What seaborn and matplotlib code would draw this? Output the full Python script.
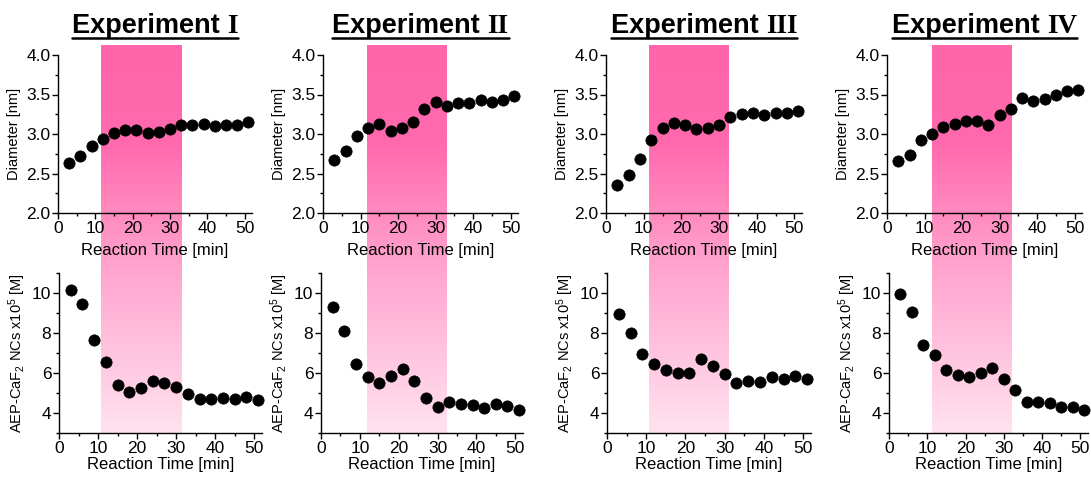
import numpy as np
import matplotlib
matplotlib.use("Agg")
import matplotlib.pyplot as plt
from matplotlib.colors import LinearSegmentedColormap
from matplotlib.ticker import MultipleLocator, FormatStrFormatter
from matplotlib.lines import Line2D
import seaborn as sns

# reaction time sampling points [min]
time_min = [3, 6, 9, 12, 15, 18, 21, 24, 27, 30, 33, 36, 39, 42, 45, 48, 51]

titles = ["Experiment ", "Experiment ", "Experiment ", "Experiment "]
numerals = ["I", "II", "III", "IV"]

# diameter [nm]
diam_1 = [2.63, 2.72, 2.85, 2.94, 3.01, 3.05, 3.05, 3.01, 3.02, 3.06, 3.12, 3.12, 3.13, 3.10, 3.11, 3.12, 3.15]
diam_2 = [2.67, 2.78, 2.97, 3.07, 3.13, 3.04, 3.07, 3.15, 3.32, 3.41, 3.36, 3.39, 3.39, 3.43, 3.41, 3.43, 3.48]
diam_3 = [2.36, 2.48, 2.68, 2.92, 3.07, 3.14, 3.12, 3.06, 3.07, 3.12, 3.22, 3.25, 3.26, 3.24, 3.27, 3.27, 3.29]
diam_4 = [2.66, 2.74, 2.92, 3.00, 3.09, 3.13, 3.17, 3.16, 3.11, 3.24, 3.32, 3.45, 3.42, 3.44, 3.50, 3.54, 3.56]

# nanocrystal concentration x10^5 [M]
conc_1 = [10.16, 9.44, 7.66, 6.56, 5.38, 5.07, 5.27, 5.58, 5.50, 5.30, 4.97, 4.69, 4.69, 4.77, 4.72, 4.79, 4.67]
conc_2 = [9.31, 8.08, 6.45, 5.81, 5.51, 5.84, 6.20, 5.58, 4.76, 4.31, 4.53, 4.46, 4.39, 4.26, 4.43, 4.33, 4.15]
conc_3 = [8.96, 8.01, 6.96, 6.46, 6.17, 6.02, 6.02, 6.71, 6.33, 5.97, 5.48, 5.58, 5.54, 5.81, 5.72, 5.84, 5.69]
conc_4 = [9.93, 9.06, 7.40, 6.90, 6.15, 5.89, 5.80, 5.98, 6.25, 5.68, 5.14, 4.56, 4.54, 4.49, 4.29, 4.29, 4.17]

# highlighted reaction window (in top-panel time units)
band_start = [11.5, 11.6, 11.5, 12.1]
band_end = [33.2, 32.8, 32.5, 33.4]

diameters = [diam_1, diam_2, diam_3, diam_4]
concentrations = [conc_1, conc_2, conc_3, conc_4]

sns.set_style("ticks")
plt.rcParams["font.family"] = ["Liberation Sans", "DejaVu Sans"]
plt.rcParams["mathtext.default"] = "regular"
plt.rcParams["text.color"] = "black"
plt.rcParams["axes.labelcolor"] = "black"
plt.rcParams["xtick.direction"] = "out"
plt.rcParams["ytick.direction"] = "out"

W, H = 1091, 479
fig = plt.figure(figsize=(W / 100, H / 100), dpi=100)

def px_axes(x0, x1, ytop, ybot):
    return fig.add_axes([x0 / W, 1 - ybot / H, (x1 - x0) / W, (ybot - ytop) / H])

top_left = [58, 323, 606, 887]
top_right = [252, 518, 802, 1082]
bot_left = [59, 321, 607, 889]
bot_right = [262, 523, 811, 1088]

bg = fig.add_axes([0, 0, 1, 1], zorder=-5)
bg.axis("off")

pink = LinearSegmentedColormap.from_list(
    "band",
    [(0.0, "#ff66aa"), (0.25, "#ff69ad"), (0.44, "#ff8cc0"),
     (0.56, "#ffa2cd"), (1.0, "#ffe2ef")])
grad = np.linspace(0, 1, 256).reshape(-1, 1)

def style(ax):
    sns.despine(ax=ax)
    ax.set_facecolor("none")
    for s in ["left", "bottom"]:
        ax.spines[s].set_color("black")
        ax.spines[s].set_linewidth(1.0)
    ax.tick_params(which="major", length=4, width=1, colors="black", labelsize=12.5, pad=1.5)
    ax.tick_params(which="minor", length=2.5, width=1, colors="black")
    ax.set_xlim(0, 52)
    ax.xaxis.set_major_locator(MultipleLocator(10))
    ax.xaxis.set_minor_locator(MultipleLocator(5))

renderer = fig.canvas.get_renderer()

for i in range(4):
    ax_t = px_axes(top_left[i], top_right[i], 55, 213)
    ax_b = px_axes(bot_left[i], bot_right[i], 273, 433)

    sns.scatterplot(x=time_min, y=diameters[i], color="black", s=66,
                    edgecolor="black", linewidth=0.5, ax=ax_t, zorder=3, clip_on=False)
    ax_t.set_ylim(2.0, 4.0)
    ax_t.yaxis.set_major_locator(MultipleLocator(0.5))
    ax_t.yaxis.set_minor_locator(MultipleLocator(0.25))
    ax_t.yaxis.set_major_formatter(FormatStrFormatter("%.1f"))
    ax_t.set_xlabel("Reaction Time [min]", fontsize=12, labelpad=5)
    ax_t.set_ylabel("Diameter [nm]", fontsize=10.5, labelpad=4)
    style(ax_t)

    sns.scatterplot(x=time_min, y=concentrations[i], color="black", s=66,
                    edgecolor="black", linewidth=0.5, ax=ax_b, zorder=3, clip_on=False)
    ax_b.set_ylim(3, 11)
    ax_b.yaxis.set_major_locator(MultipleLocator(2))
    ax_b.yaxis.set_minor_locator(MultipleLocator(1))
    ax_b.set_xlabel("Reaction Time [min]", fontsize=12, labelpad=1)
    ax_b.set_ylabel("AEP-CaF$_2$ NCs x10$^5$ [M]", fontsize=10.5, labelpad=3)
    style(ax_b)

    # gradient band spanning both rows
    inv = fig.transFigure.inverted()
    fx0 = inv.transform(ax_t.transData.transform((band_start[i], 2.0)))[0]
    fx1 = inv.transform(ax_t.transData.transform((band_end[i], 2.0)))[0]
    bg.imshow(grad, cmap=pink, aspect="auto", interpolation="bilinear",
              extent=[fx0, fx1, 1 - 433 / H, 1 - 45 / H], origin="upper")

    # title: bold sans word + bold serif numeral, underlined
    cx = (top_left[i] + top_right[i]) / 2 / W
    ty = 1 - 33 / H
    t1 = fig.text(0, ty, titles[i], fontsize=19.5, fontweight="bold", ha="left", va="baseline")
    t2 = fig.text(0, ty, numerals[i], fontsize=19.5, fontweight="bold", ha="left", va="baseline",
                  family=["Liberation Serif", "DejaVu Serif"])
    w1 = t1.get_window_extent(renderer).width / W
    w2 = t2.get_window_extent(renderer).width / W
    x_start = cx - (w1 + w2) / 2
    t1.set_x(x_start)
    t2.set_x(x_start + w1)
    fig.add_artist(Line2D([x_start, x_start + w1 + w2], [1 - 37.5 / H] * 2,
                          transform=fig.transFigure, color="black", linewidth=1.8))

bg.set_xlim(0, 1)
bg.set_ylim(0, 1)

fig.savefig("out.png", dpi=100)
